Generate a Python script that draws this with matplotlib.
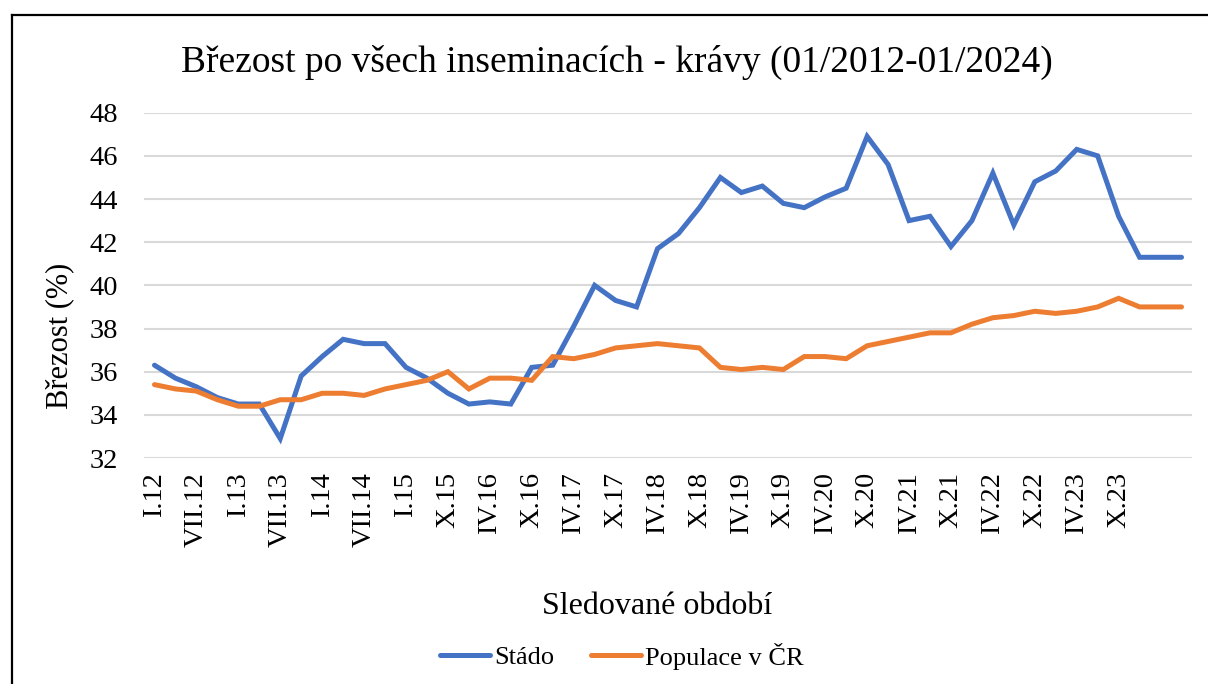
import matplotlib
matplotlib.use("Agg")
import matplotlib.pyplot as plt
from matplotlib.lines import Line2D

plt.rcParams['font.family'] = ['Liberation Serif', 'DejaVu Serif']

# x-axis labels shown on every second category (50 categories in total)
tick_labels = ["I.12", "VII.12", "I.13", "VII.13", "I.14", "VII.14", "I.15", "X.15",
               "IV.16", "X.16", "IV.17", "X.17", "IV.18", "X.18", "IV.19", "X.19",
               "IV.20", "X.20", "IV.21", "X.21", "IV.22", "X.22", "IV.23", "X.23"]

stado = [36.3, 35.7, 35.3, 34.8, 34.5, 34.5, 32.9, 35.8, 36.7, 37.5,
         37.3, 37.3, 36.2, 35.7, 35.0, 34.5, 34.6, 34.5, 36.2, 36.3,
         38.1, 40.0, 39.3, 39.0, 41.7, 42.4, 43.6, 45.0, 44.3, 44.6,
         43.8, 43.6, 44.1, 44.5, 46.9, 45.6, 43.0, 43.2, 41.8, 43.0,
         45.2, 42.8, 44.8, 45.3, 46.3, 46.0, 43.2, 41.3, 41.3, 41.3]

populace = [35.4, 35.2, 35.1, 34.7, 34.4, 34.4, 34.7, 34.7, 35.0, 35.0,
            34.9, 35.2, 35.4, 35.6, 36.0, 35.2, 35.7, 35.7, 35.6, 36.7,
            36.6, 36.8, 37.1, 37.2, 37.3, 37.2, 37.1, 36.2, 36.1, 36.2,
            36.1, 36.7, 36.7, 36.6, 37.2, 37.4, 37.6, 37.8, 37.8, 38.2,
            38.5, 38.6, 38.8, 38.7, 38.8, 39.0, 39.4, 39.0, 39.0, 39.0]

W, H = 1208, 684
fig = plt.figure(figsize=(W / 100, H / 100), dpi=100)
ax = fig.add_axes([144 / W, 1 - 458 / H, (1192 - 144) / W, (458 - 112.7) / H])

x = list(range(len(stado)))
ax.plot(x, stado, color="#4472C4", lw=3.6, solid_capstyle="round", solid_joinstyle="miter", label="Stádo")
ax.plot(x, populace, color="#ED7D31", lw=3.6, solid_capstyle="round", solid_joinstyle="miter", label="Populace v ČR")

ax.set_xlim(-0.5, len(stado) - 0.5)
ax.set_ylim(32, 48)
ax.set_yticks(range(32, 49, 2))
ax.grid(axis="y", color="#d9d9d9", lw=1.5)
ax.set_axisbelow(True)
for s in ax.spines.values():
    s.set_visible(False)

ax.set_xticks(range(0, 2 * len(tick_labels), 2))
ax.set_xticklabels(tick_labels, rotation=90, va="top", ha="center")
ax.tick_params(axis="x", length=0, pad=10, labelsize=20.5)
ax.tick_params(axis="y", length=0, pad=18.5, labelsize=20.5)

fig.text(617 / W, 1 - 62 / H, "Březost po všech inseminacích - krávy (01/2012-01/2024)",
         ha="center", va="center", fontsize=27)
fig.text(657 / W, 1 - 607 / H, "Sledované období", ha="center", va="center", fontsize=23)
fig.text(60 / W, 1 - 336 / H, "Březost (%)", ha="center", va="center", rotation=90, fontsize=22)

fig.legend(loc="center", bbox_to_anchor=(622 / W, 1 - 656 / H), ncol=2, frameon=False,
           fontsize=19, handlelength=1.9, handletextpad=0.15, columnspacing=1.4)

# chart frame (only left and top edges are visible in the reference)
fig.add_artist(Line2D([11.5 / W, 11.5 / W], [0, 1 - 15 / H], color="black", lw=1.6, transform=fig.transFigure))
fig.add_artist(Line2D([11.5 / W, 1], [1 - 15 / H, 1 - 15 / H], color="black", lw=1.6, transform=fig.transFigure))

fig.savefig("out.png", dpi=100)
